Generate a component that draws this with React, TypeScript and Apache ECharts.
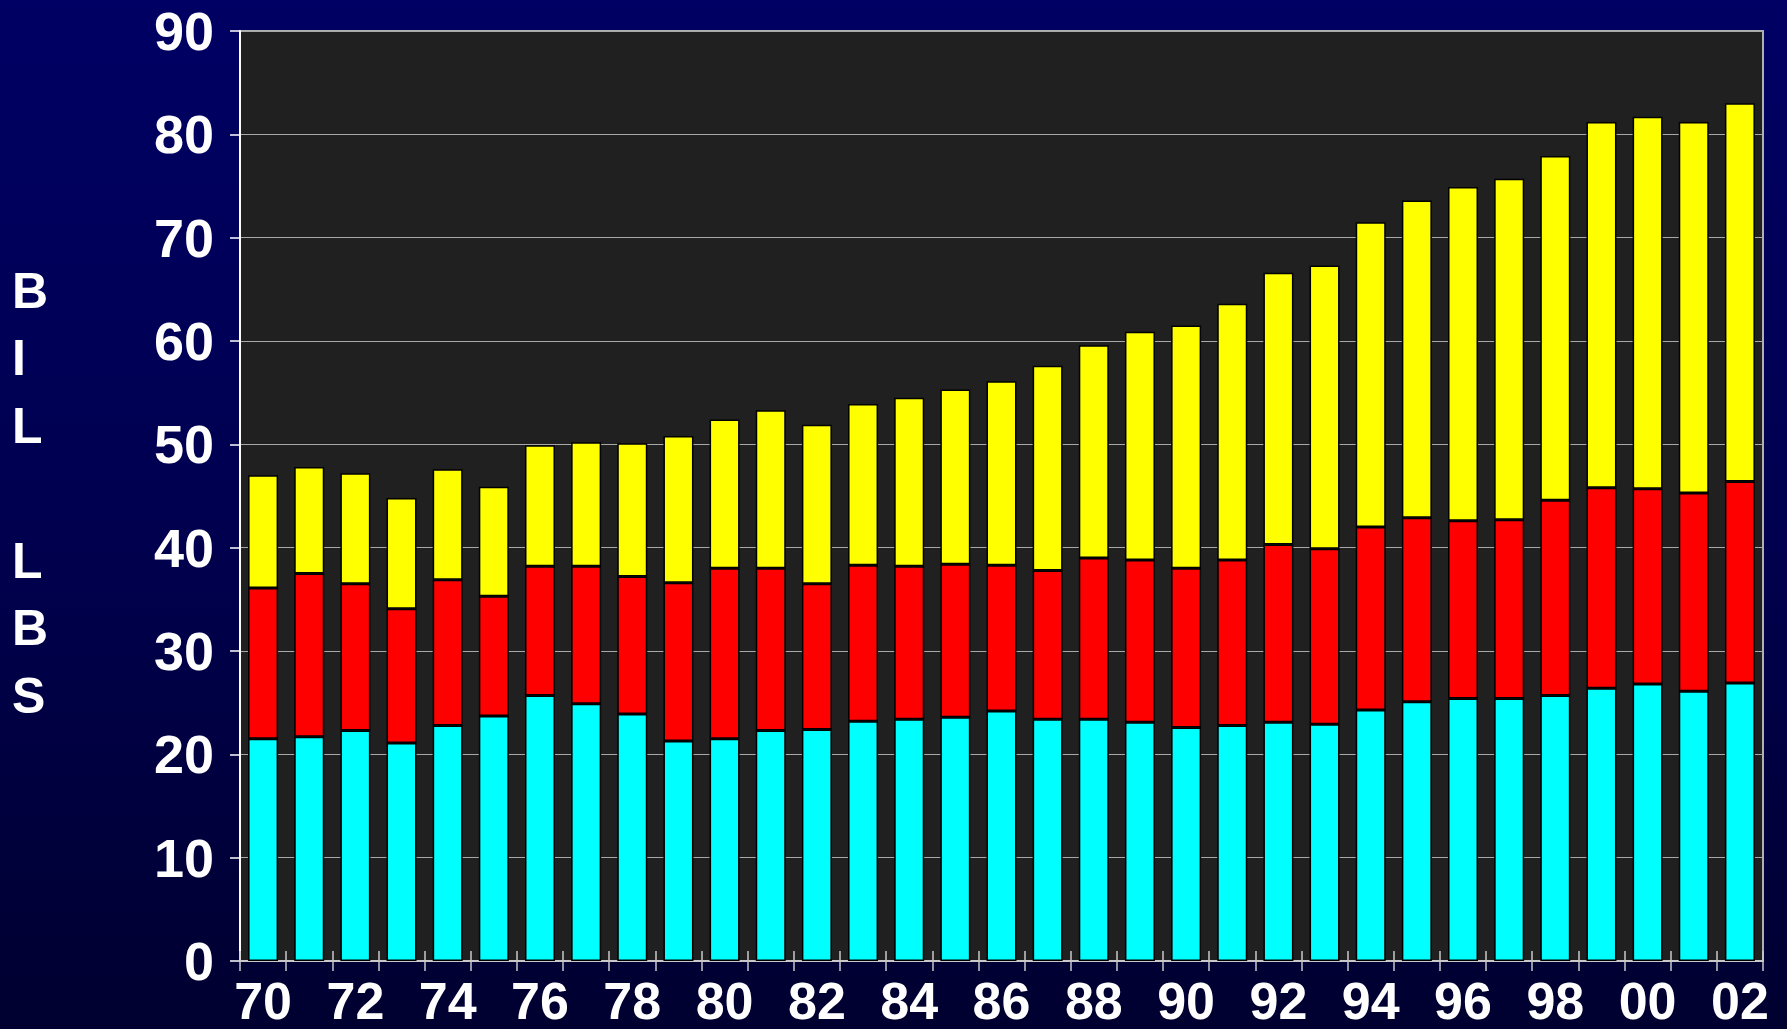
import React, { useEffect, useRef } from "react";
import * as echarts from "echarts";

const years = ["70","71","72","73","74","75","76","77","78","79","80","81","82","83","84","85","86","87","88","89","90","91","92","93","94","95","96","97","98","99","00","01","02"];
// cumulative tops
const cyanTop = [21.5,21.7,22.3,21.1,22.8,23.7,25.7,24.9,23.9,21.3,21.5,22.3,22.4,23.2,23.4,23.6,24.2,23.4,23.4,23.1,22.6,22.8,23.1,22.9,24.3,25.1,25.4,25.4,25.7,26.4,26.8,26.1,26.9];
const redTop = [36.1,37.5,36.5,34.1,36.9,35.3,38.2,38.2,37.2,36.6,38.0,38.0,36.5,38.3,38.2,38.4,38.3,37.8,39.0,38.8,38.0,38.8,40.3,39.9,42.0,42.9,42.6,42.7,44.6,45.8,45.7,45.3,46.4];
const yellowTop = [47.0,47.8,47.2,44.8,47.6,45.9,49.9,50.2,50.1,50.8,52.4,53.3,51.9,53.9,54.5,55.3,56.1,57.6,59.6,60.9,61.5,63.6,66.6,67.3,71.5,73.6,74.9,75.7,77.9,81.2,81.7,81.2,83.0];

const cyanVals = cyanTop;
const redVals = redTop.map((v, i) => +(v - cyanTop[i]).toFixed(2));
const yellowVals = yellowTop.map((v, i) => +(v - redTop[i]).toFixed(2));

export default function App() {
  const ref = useRef<HTMLDivElement>(null);
  useEffect(() => {
    const chart = echarts.init(ref.current!, null, { renderer: "svg" });
    const font = "'Liberation Sans', Arial, sans-serif";
    const mk = (name: string, data: number[], color: string) => ({
      name,
      type: "bar",
      stack: "total",
      data,
      barWidth: "65%",
      itemStyle: { color, borderColor: "#000", borderWidth: 1.5 },
    });
    chart.setOption({
      animation: false,
      backgroundColor: "transparent",
      grid: {
        left: 240,
        right: 24,
        top: 31,
        bottom: 68,
        show: true,
        backgroundColor: "#202020",
        borderColor: "#b0b0b0",
        borderWidth: 2,
      },
      graphic: [
        {
          type: "text",
          left: 12,
          top: 257,
          style: {
            text: "B\nI\nL\n\nL\nB\nS",
            fill: "#fff",
            font: `bold 50px ${font}`,
            lineHeight: 67.5,
            align: "center",
            width: 40,
          },
        },
      ],
      xAxis: [
        {
          type: "category",
          data: years,
          axisLine: { lineStyle: { color: "#c8c8c8", width: 2 } },
          axisTick: { show: true, interval: 0, length: 10, lineStyle: { color: "#c8c8c8", width: 1.5 } },
          axisLabel: {
            interval: 1,
            color: "#fff",
            fontFamily: font,
            fontWeight: "bold",
            fontSize: 52,
            lineHeight: 40,
            margin: 20,
          },
        },
        {
          type: "category",
          data: years,
          position: "bottom",
          axisLine: { show: false },
          axisTick: { show: true, inside: true, interval: 0, length: 10, lineStyle: { color: "#c8c8c8", width: 1.5 } },
          axisLabel: { show: false },
        },
      ],
      yAxis: {
        type: "value",
        min: 0,
        max: 90,
        interval: 10,
        axisLine: { show: true, lineStyle: { color: "#fff", width: 2 } },
        axisTick: { show: true, length: 10, lineStyle: { color: "#fff", width: 1.5 } },
        splitLine: { lineStyle: { color: "#a8a8a8", width: 1 } },
        axisLabel: {
          color: "#fff",
          fontFamily: font,
          fontWeight: "bold",
          fontSize: 54,
          margin: 26,
        },
      },
      series: [
        mk("cyan", cyanVals, "#00ffff"),
        mk("red", redVals, "#ff0000"),
        mk("yellow", yellowVals, "#ffff00"),
      ],
    });
    return () => chart.dispose();
  }, []);
  return (
    <div
      style={{
        position: "fixed",
        left: 0,
        top: 0,
        width: 1787,
        height: 1029,
        background: "linear-gradient(to bottom, #000064 0%, #000050 50%, #000030 100%)",
      }}
    >
      <div ref={ref} style={{ width: 1787, height: 1029 }} />
    </div>
  );
}
